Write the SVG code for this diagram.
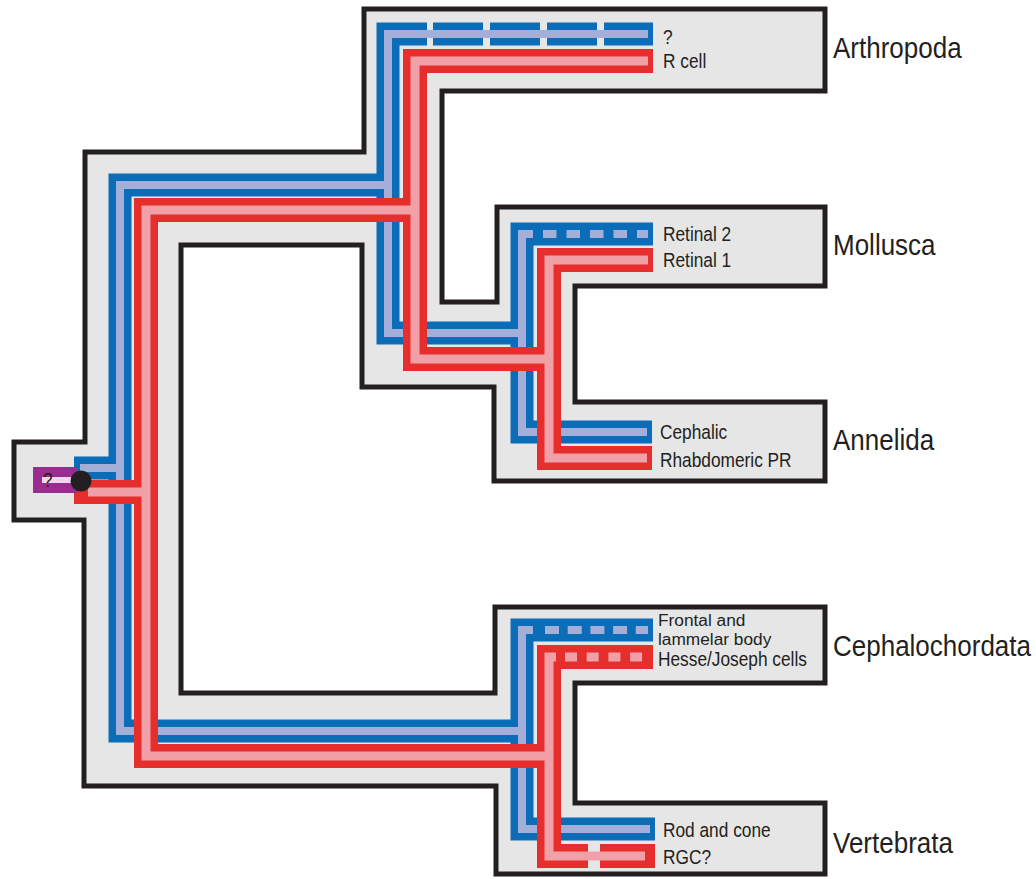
<svg xmlns="http://www.w3.org/2000/svg" width="1036" height="879" viewBox="0 0 1036 879">
<defs>
<style>
.bg{fill:#e6e6e6;stroke:#231f20;stroke-width:5;stroke-linejoin:miter}
.bo{fill:none;stroke:#0b6cb8;stroke-width:23;stroke-linejoin:miter}
.bi{fill:none;stroke:#a4afd9;stroke-width:8;stroke-linejoin:miter}
.ro{fill:none;stroke:#e62e2d;stroke-width:24;stroke-linejoin:miter}
.ri{fill:none;stroke:#f1a0a7;stroke-width:9;stroke-linejoin:miter}
.sm{font-family:"Liberation Sans",Arial,sans-serif;font-size:17.3px;fill:#231f20}
.lg{font-family:"Liberation Sans",Arial,sans-serif;font-size:26px;fill:#231f20}
</style>
</defs>
<rect width="1036" height="879" fill="#ffffff"/>
<g id="tree-background">
<polygon class="bg" points="14,442 85,442 85,152 364,152 364,9 825,9 825,91 442,91 442,302 497,302 497,207 825,207 825,286 575,286 575,402 825,402 825,481 494,481 494,387 362,387 362,245 181,245 181,693 495,693 495,607 825,607 825,683 575,683 575,803 825,803 825,874 496,874 496,786 84,786 84,520 14,520"/>
</g>
<g id="connectors">
<path class="bo" d="M74 468 H120"/>
<path class="bo" d="M388 185 H120 V731 H522"/>
<path class="bo" d="M427 34 H388 V333 H522"/>
<path class="bo" d="M433 34 H653" stroke-dasharray="50 7"/>
<path class="bo" d="M653 234 H522 V432 H652"/>
<path class="bo" d="M653 630 H522 V829 H655"/>
<path class="bi" d="M80 468 H120"/>
<path class="bi" d="M388 185 H120 V731 H522"/>
<path class="bi" d="M648 34 H388 V333 H522"/>
<path class="bi" d="M533 234 H522 V432 H647"/>
<path class="bi" d="M543 234 H648" stroke-dasharray="13.5 10"/>
<path class="bi" d="M533 630 H522 V829 H650"/>
<path class="bi" d="M545 630 H648" stroke-dasharray="14 8.7"/>
<path class="ro" d="M74 492 H146"/>
<path class="ro" d="M415 210 H146 V756 H549"/>
<path class="ro" d="M653 61 H415 V359 H549"/>
<path class="ro" d="M653 260 H549 V458 H652"/>
<path class="ro" d="M653 657 H549 V856 H588"/>
<path class="ro" d="M600 856 H655"/>
<path class="ri" d="M88 492 H146"/>
<path class="ri" d="M415 210 H146 V756 H549"/>
<path class="ri" d="M648 61 H415 V359 H549"/>
<path class="ri" d="M648 260 H549 V458 H647"/>
<path class="ri" d="M556 657 H549 V856 H645"/>
<path class="ri" d="M565 657 H645" stroke-dasharray="12 9.7"/>
</g>
<g id="root">
<rect x="33" y="467" width="44" height="26" fill="#9b2b8f"/>
<rect x="42" y="477" width="31" height="6" fill="#f0d6ee"/>
<text class="sm" transform="translate(43,487) scale(1,1.15)">?</text>
<circle cx="81" cy="481" r="10.5" fill="#231f20"/>
</g>
<g id="arthropoda">
<text class="sm" transform="translate(663,44) scale(1,1.15)">?</text>
<text class="sm" transform="translate(663,68) scale(1,1.15)">R cell</text>
<text class="lg" transform="translate(833,58) scale(1,1.12)">Arthropoda</text>
</g>
<g id="mollusca">
<text class="sm" transform="translate(663,241) scale(1,1.15)">Retinal 2</text>
<text class="sm" transform="translate(663,267) scale(1,1.15)">Retinal 1</text>
<text class="lg" transform="translate(833,255) scale(1,1.12)">Mollusca</text>
</g>
<g id="annelida">
<text class="sm" transform="translate(660,439) scale(1,1.15)">Cephalic</text>
<text class="sm" transform="translate(660,467) scale(1,1.15)">Rhabdomeric PR</text>
<text class="lg" transform="translate(833,450) scale(1,1.12)">Annelida</text>
</g>
<g id="cephalochordata">
<text class="sm" transform="translate(658,626)">Frontal and</text>
<text class="sm" transform="translate(658,645)">lammelar body</text>
<text class="sm" transform="translate(658,666) scale(1,1.15)">Hesse/Joseph cells</text>
<text class="lg" transform="translate(833,656) scale(1,1.12)">Cephalochordata</text>
</g>
<g id="vertebrata">
<text class="sm" transform="translate(663,837) scale(1,1.15)">Rod and cone</text>
<text class="sm" transform="translate(663,864) scale(1,1.15)">RGC?</text>
<text class="lg" transform="translate(833,853) scale(1,1.12)">Vertebrata</text>
</g>
</svg>
